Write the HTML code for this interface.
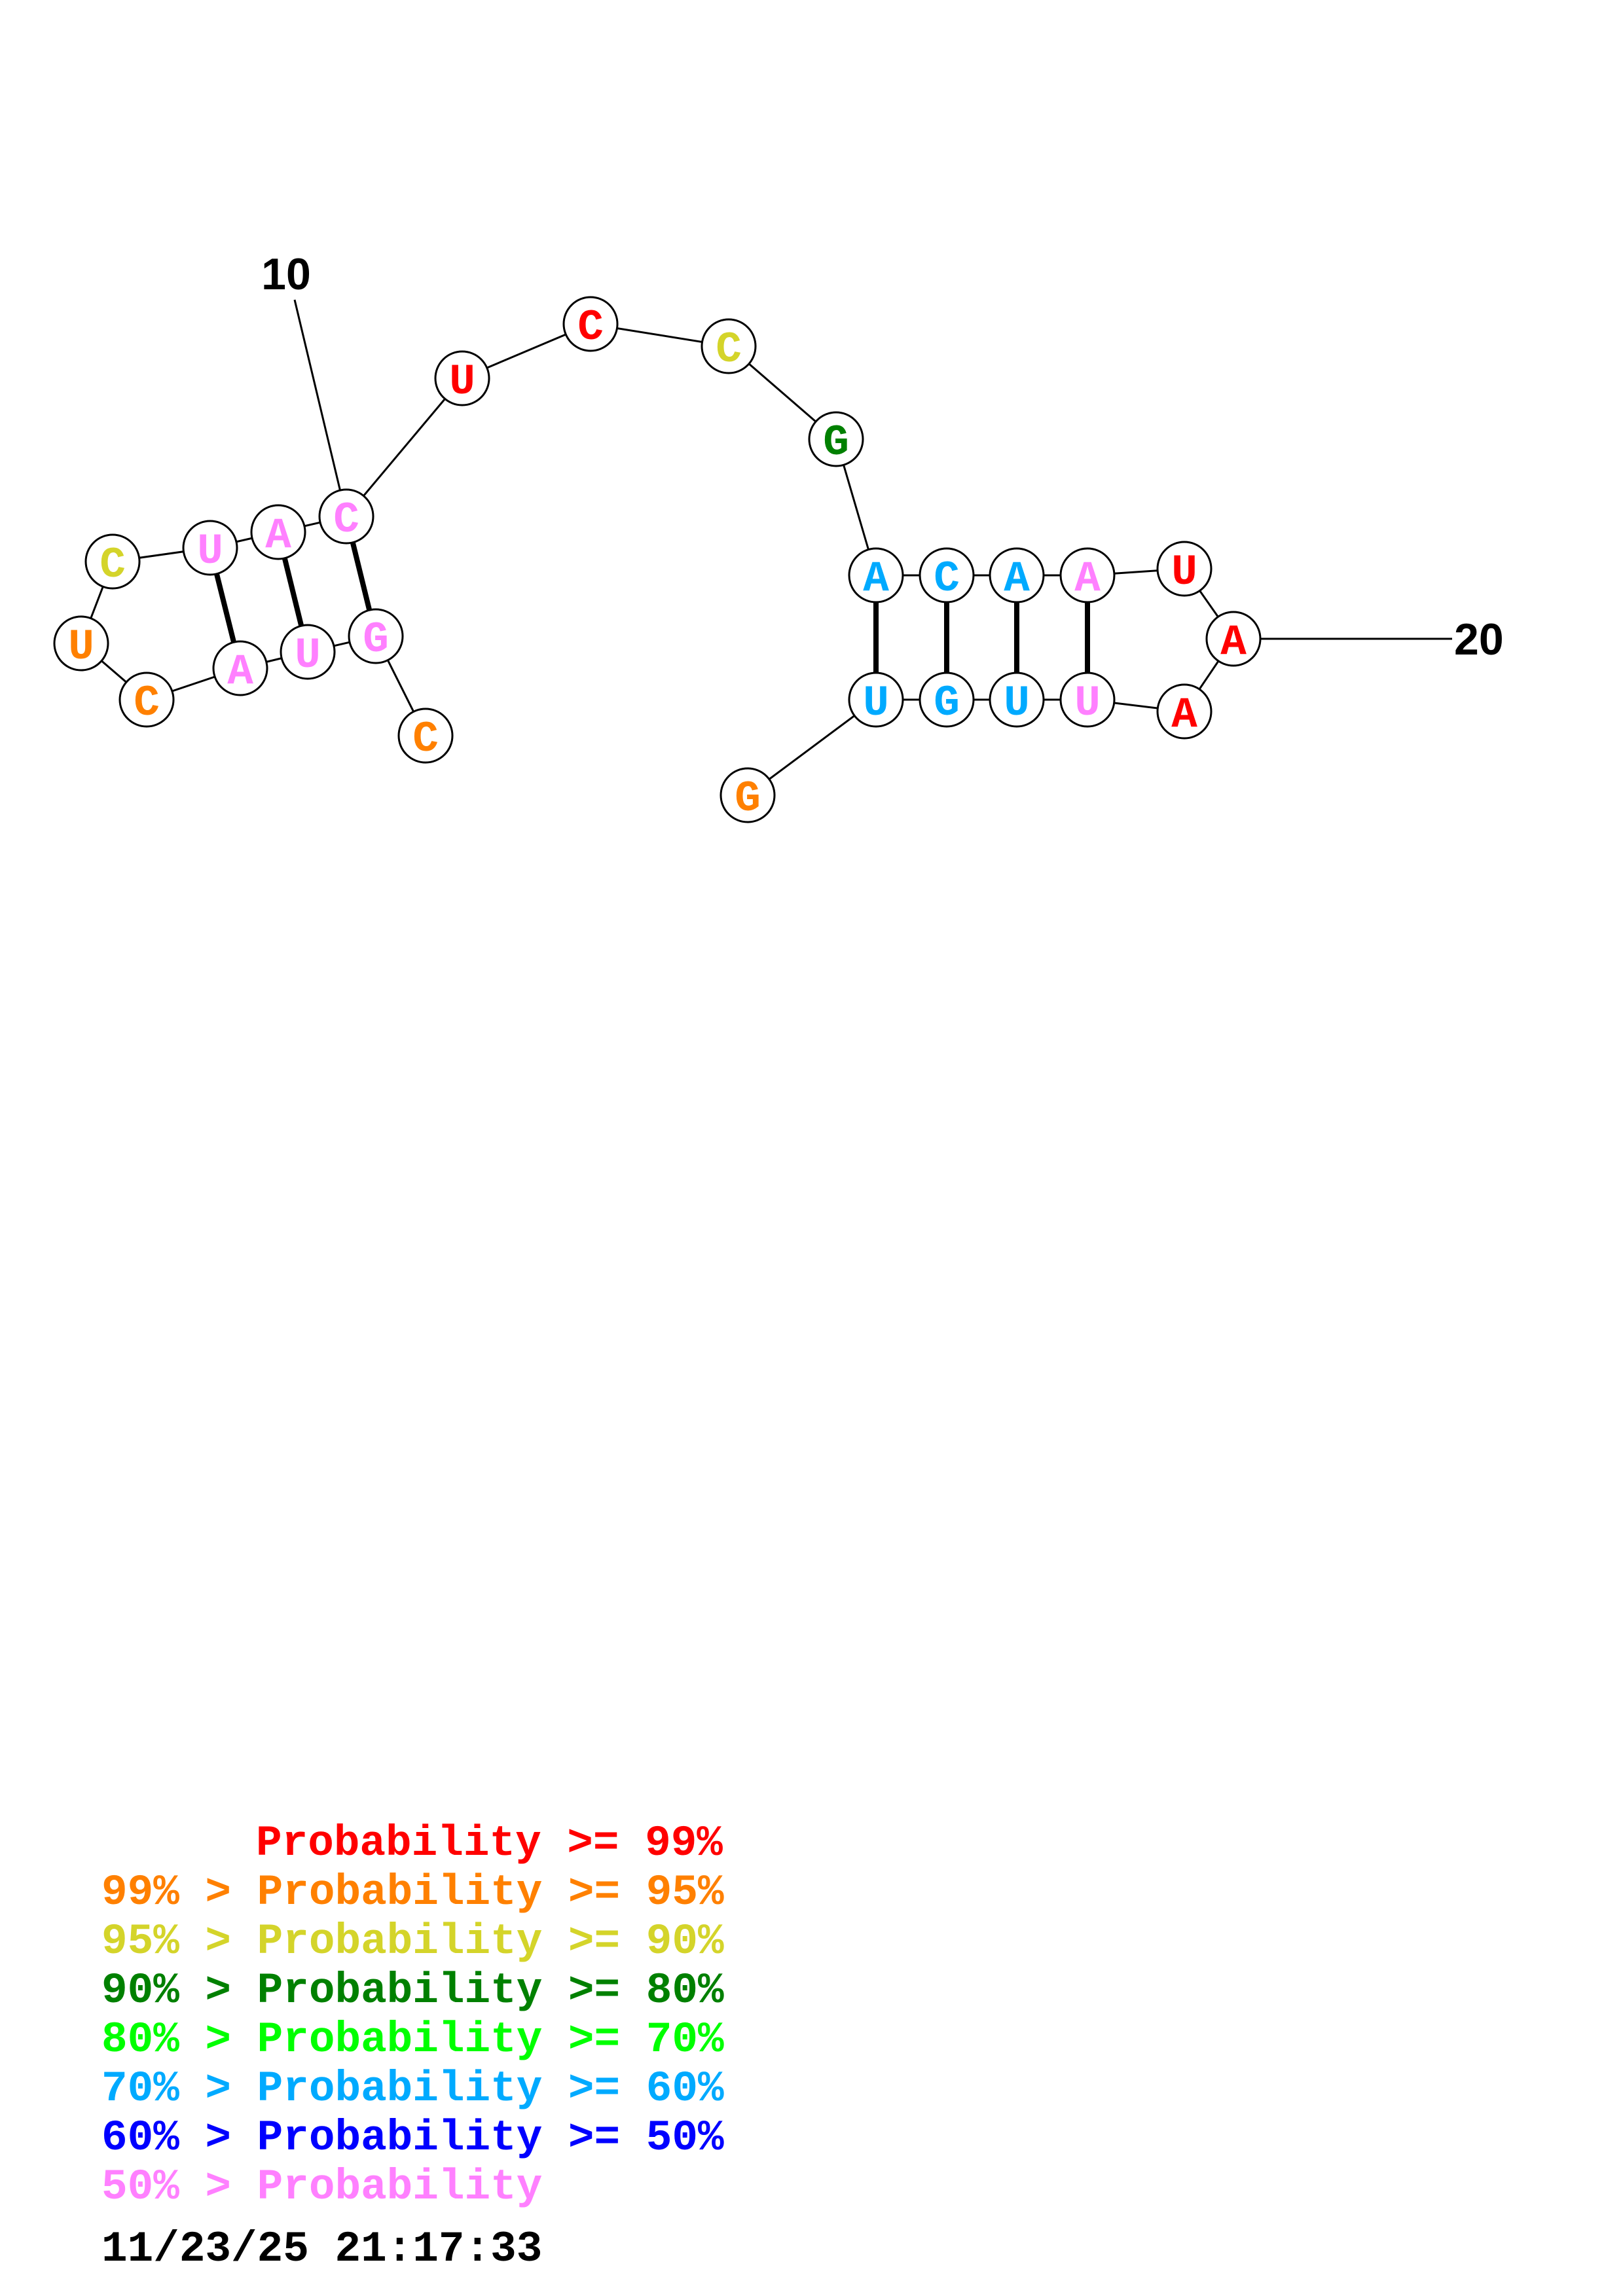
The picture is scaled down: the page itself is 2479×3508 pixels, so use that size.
<!DOCTYPE html>
<html><head><meta charset="utf-8"><style>
html,body{margin:0;padding:0;background:#fff}
svg{display:block}
.n{font-family:"Liberation Mono",monospace;font-weight:bold;font-size:66px;text-anchor:middle}
.l{font-family:"Liberation Mono",monospace;font-weight:bold;font-size:66px}
</style></head><body>
<svg width="2479" height="3508" viewBox="0 0 2479 3508" xmlns="http://www.w3.org/2000/svg">
<g stroke="#000" stroke-width="3" fill="none">
<polyline points="650,1124 574,972 470,996 367,1021 224,1069 124,983 172,858 321,837 425,813 529,789 706,578 902,495 1113,529 1277,671 1338,879 1446,879 1553,879 1661,879 1809,869 1884,976 1809,1087 1661,1069 1553,1069 1446,1069 1338,1069 1142,1215"/>
<line x1="450" y1="458" x2="529" y2="789"/>
<line x1="1884" y1="976" x2="2218" y2="976"/>
</g>
<g stroke="#000" stroke-width="8">
<line x1="529" y1="789" x2="574" y2="972"/>
<line x1="425" y1="813" x2="470" y2="996"/>
<line x1="321" y1="837" x2="367" y2="1021"/>
<line x1="1338" y1="879" x2="1338" y2="1069"/>
<line x1="1446" y1="879" x2="1446" y2="1069"/>
<line x1="1553" y1="879" x2="1553" y2="1069"/>
<line x1="1661" y1="879" x2="1661" y2="1069"/>
</g>
<g stroke="#000" stroke-width="3" fill="#fff">
<circle cx="650" cy="1124" r="41"/><circle cx="574" cy="972" r="41"/><circle cx="470" cy="996" r="41"/>
<circle cx="367" cy="1021" r="41"/><circle cx="224" cy="1069" r="41"/><circle cx="124" cy="983" r="41"/>
<circle cx="172" cy="858" r="41"/><circle cx="321" cy="837" r="41"/><circle cx="425" cy="813" r="41"/>
<circle cx="529" cy="789" r="41"/><circle cx="706" cy="578" r="41"/><circle cx="902" cy="495" r="41"/>
<circle cx="1113" cy="529" r="41"/><circle cx="1277" cy="671" r="41"/><circle cx="1338" cy="879" r="41"/>
<circle cx="1446" cy="879" r="41"/><circle cx="1553" cy="879" r="41"/><circle cx="1661" cy="879" r="41"/>
<circle cx="1809" cy="869" r="41"/><circle cx="1884" cy="976" r="41"/><circle cx="1809" cy="1087" r="41"/>
<circle cx="1661" cy="1069" r="41"/><circle cx="1553" cy="1069" r="41"/><circle cx="1446" cy="1069" r="41"/>
<circle cx="1338" cy="1069" r="41"/><circle cx="1142" cy="1215" r="41"/>
</g>
<g class="n">
<text x="650" y="1147" fill="#ff8000">C</text>
<text x="574" y="995" fill="#ff80ff">G</text>
<text x="470" y="1019" fill="#ff80ff">U</text>
<text x="367" y="1044" fill="#ff80ff">A</text>
<text x="224" y="1092" fill="#ff8000">C</text>
<text x="124" y="1006" fill="#ff8000">U</text>
<text x="172" y="881" fill="#d4d42a">C</text>
<text x="321" y="860" fill="#ff80ff">U</text>
<text x="425" y="836" fill="#ff80ff">A</text>
<text x="529" y="812" fill="#ff80ff">C</text>
<text x="706" y="601" fill="#ff0000">U</text>
<text x="902" y="518" fill="#ff0000">C</text>
<text x="1113" y="552" fill="#d4d42a">C</text>
<text x="1277" y="694" fill="#008000">G</text>
<text x="1338" y="902" fill="#00aaff">A</text>
<text x="1446" y="902" fill="#00aaff">C</text>
<text x="1553" y="902" fill="#00aaff">A</text>
<text x="1661" y="902" fill="#ff80ff">A</text>
<text x="1809" y="892" fill="#ff0000">U</text>
<text x="1884" y="999" fill="#ff0000">A</text>
<text x="1809" y="1110" fill="#ff0000">A</text>
<text x="1661" y="1092" fill="#ff80ff">U</text>
<text x="1553" y="1092" fill="#00aaff">U</text>
<text x="1446" y="1092" fill="#00aaff">G</text>
<text x="1338" y="1092" fill="#00aaff">U</text>
<text x="1142" y="1238" fill="#ff8000">G</text>
</g>
<g font-family="'Liberation Sans',sans-serif" font-weight="bold" font-size="68">
<text x="437" y="442" text-anchor="middle">10</text>
<text x="2221" y="1000">20</text>
</g>
<g class="l">
<text x="391" y="2834" fill="#ff0000">Probability &gt;= 99%</text>
<text x="155" y="2909" fill="#ff8000">99% &gt; Probability &gt;= 95%</text>
<text x="155" y="2984" fill="#d4d42a">95% &gt; Probability &gt;= 90%</text>
<text x="155" y="3059" fill="#008000">90% &gt; Probability &gt;= 80%</text>
<text x="155" y="3134" fill="#00ff00">80% &gt; Probability &gt;= 70%</text>
<text x="155" y="3209" fill="#00aaff">70% &gt; Probability &gt;= 60%</text>
<text x="155" y="3284" fill="#0000ff">60% &gt; Probability &gt;= 50%</text>
<text x="155" y="3359" fill="#ff80ff">50% &gt; Probability</text>
<text x="155" y="3454" fill="#000">11/23/25 21:17:33</text>
</g>
</svg>
</body></html>
